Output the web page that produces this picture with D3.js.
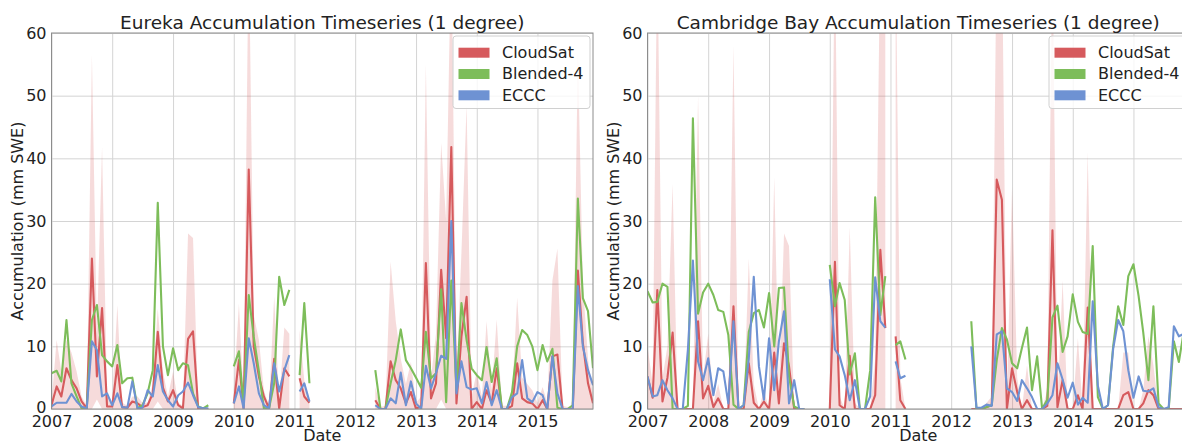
<!DOCTYPE html>
<html>
<head>
<meta charset="utf-8">
<script src="https://cdn.jsdelivr.net/npm/d3@7"></script>
<style>
  body { margin: 0; background: #fff; }
  svg { display: block; font-family: "DejaVu Sans", sans-serif; }
</style>
</head>
<body>
<svg id="chart" width="1182" height="443"></svg>
<script>
const _ = null;

// monthly time axis, Jan 2007 .. Dec 2015
const months = d3.timeMonth.range(new Date(2007, 0, 1), new Date(2016, 0, 1));
const yearTicks = d3.timeYear.range(new Date(2007, 0, 1), new Date(2016, 0, 1));
const yTicks = [0, 10, 20, 30, 40, 50, 60];

const seriesNames = ["CloudSat", "Blended-4", "ECCC"];
const seriesColors = ["#d65a5d", "#7dbd5a", "#6e92d3"];

// Eureka (one row per year)
const eurekaCloudSat = [
  0.6, 3.6, 2, 6.5, 4.6, 3.3, 1.2, 0.1, 24, 5.2, 16.1, 0.4,
  0.4, 7, 0.3, 0.2, 1.2, 0.9, 0.3, 0.6, 2.5, 12.3, 3.4, 1.2,
  3, 0.6, 0.1, 11.2, 12.4, 0.1, 0, 0, _, _, _, _,
  0.9, 7.8, 0.1, 38.2, 10, 5.2, 2, 0.1, 8, 0.1, 6.5, 5.2,
  _, 4.9, 2, 1, _, _, _, _, _, _, _, _,
  _, _, _, _, 1.4, 0, 0, 7.6, 4.6, 3.3, 0.9, 2.7,
  0, 0.5, 23.3, 1.7, 4.1, 22.2, 11.3, 41.8, 0.9, 11.6, 17.9, 0,
  1.1, 0, 3, 0.9, 6.5, 0, 0, 0.5, 7.3, 1.7, 1.1, 0.9,
  0, 1.4, 0, 8.4, 8.7, 0, 0, 0, 22.1, 10.5, 4.1, 0.9
];
const eurekaBlended = [
  5.7, 6.1, 4.4, 14.2, 4.1, 2, 0.1, 0.1, 14.2, 16.6, 8.6, 7.6,
  6.8, 10.2, 4.1, 4.9, 5, 0.1, 0.6, 2.5, 6.2, 32.9, 10, 5.4,
  9.7, 6.2, 7.3, 7, 2.5, 0.4, 0.1, 0.6, _, _, _, _,
  6.8, 9.2, 0.6, 18.2, 11.5, 6, 0.1, 0.1, 4.1, 21.1, 16.6, 19,
  _, 5.4, 16.9, 4.1, _, _, _, _, _, _, _, _,
  _, _, _, _, 6.2, 0, 0, 4.1, 7.8, 12.7, 7.8, 6.5,
  5, 3.4, 12.3, 4.9, 5.7, 19.1, 1.1, 20.5, 3, 16.9, 11, 6.5,
  5.4, 4.6, 9.9, 4.3, 8.1, 0, 0, 2.7, 10, 12.6, 11.8, 10,
  6.2, 10.2, 7.6, 9.6, 0.2, 0, 0, 0.6, 33.6, 17.7, 15.6, 6.5
];
const eurekaEccc = [
  0.4, 1, 1, 1, 2.4, 1.2, 0.4, 0.1, 10.8, 9.4, 2, 2.5,
  0.6, 2.5, 0.3, 0.2, 4.4, 0.1, 0.2, 3, 2, 7, 2.8, 1.4,
  0.4, 2.2, 2.8, 4.2, 2.2, 0.3, 0.1, 0.1, _, _, _, _,
  0.9, 3.6, 0.1, 11.3, 7.3, 2.5, 0.6, 0.1, 7.3, 2.8, 6.2, 8.6,
  _, 2.8, 4.1, 1.2, _, _, _, _, _, _, _, _,
  _, _, _, _, 0.6, 0, 0, 1.7, 0.9, 5.8, 0.6, 4.4,
  0.9, 0, 6.9, 3.3, 5.7, 8.5, 8, 30, 2.5, 7.6, 3.5, 3.1,
  3.3, 0.9, 4.3, 0.6, 3, 0, 0, 1.9, 2.5, 7.8, 1.7, 1.1,
  2.7, 2.2, 0, 8.4, 2.5, 0, 0, 0, 19.6, 10, 6.2, 3.8
];
// CloudSat uncertainty band (upper / lower)
const eurekaHigh = [
  1, 11, 6, 11, 9, 6, 2, 0.5, 56.5, 12, 41.8, 2,
  1, 16.6, 1, 0.5, 2, 2, 1, 1, 4, 16, 6, 2,
  6, 1, 0.5, 28, 27.3, 0.3, 0, 0, _, _, _, _,
  3, 16.8, 2, 75, 15, 11, 3, 0.5, 18, 1, 13, 12,
  _, 12.6, 4.6, 1.4, _, _, _, _, _, _, _, _,
  _, _, _, _, 3.5, 0.3, 0.5, 23.5, 14, 8, 4, 7.5,
  1, 2, 55, 5, 12, 42.5, 30, 75, 5, 25, 48.5, 2,
  6, 2, 14, 3, 14.3, 0.5, 0.5, 2, 17.8, 5, 4, 3,
  1, 3.5, 1, 20.5, 25.6, 0.5, 0.3, 0.5, 57, 20, 8, 2
];
const eurekaLow = [
  0, 0, 0, 0, 0, 0, 0, 0, 0, 1.5, 0, 0,
  0, 0, 0, 0, 0, 0, 0, 0, 0, 1.2, 0, 0,
  0, 0, 0, 0, 0, 0, 0, 0, _, _, _, _,
  0, 0, 0, 0, 0, 0, 0, 0, 0, 0, 0, 0,
  _, 0, 0, 0, _, _, _, _, _, _, _, _,
  _, _, _, _, 0, 0, 0, 0, 0, 0, 0, 0,
  0, 0, 0, 0, 0, 1.5, 0, 0, 0, 0, 0, 0,
  0, 0, 0, 0, 0, 0, 0, 0, 0, 0, 0, 0,
  0, 0, 0, 0, 0, 0, 0, 0, 0, 0, 0, 0
];

// Cambridge Bay
const cambridgeCloudSat = [
  5.2, 1.8, 19, 1.2, 5, 12.2, 0, 0, 0, 0, 14, 1.7,
  3.7, 0.3, 1.7, 0, 0, 16.4, 0, 0, 7.3, 1, 0, 1.2,
  0, 9, 0.9, 10.5, 6.8, 0, 0, 0, _, _, _, _,
  0, 23.5, 0.6, 0, 8.5, 0, 0, 0, 0, 2.2, 25.4, 12.9,
  _, 11.6, 1.4, 0, _, _, _, _, _, _, _, _,
  _, _, _, _, 0, 0, 0, 0.3, 0.6, 36.6, 33.4, 0,
  6.5, 2.7, 0, 1.4, 0, 0, 0, 0.5, 28.5, 0.3, 4.6, 0,
  0, 2.2, 0, 16.2, 0, 0, 0, 0, 0, 0, 2.2, 2.7,
  0, 0, 0.9, 3, 2.2, 0, 0, 0, 0, 0, 0, 0
];
const cambridgeBlended = [
  18.8, 17, 17.1, 20, 19.5, 0, 0, 0, 0.5, 46.4, 15.2, 18.6,
  20, 18.2, 15.8, 15.5, 11.8, 0.7, 0, 0.6, 12.3, 15.3, 15.8, 13,
  18.5, 10, 19.3, 19.4, 5.2, 0.4, 0, 0, _, _, _, _,
  23, 16.4, 20.1, 17.4, 5.5, 8.9, 0, 0, 6.2, 33.8, 15, 21.2,
  _, 10.2, 10.8, 7.9, _, _, _, _, _, _, _, _,
  _, _, _, _, 14, 0, 0, 0.3, 0.6, 7.8, 12.9, 11.1,
  7.3, 6.5, 9.7, 13, 3, 8.4, 0, 1.5, 14.6, 16.5, 9.1, 11.6,
  18.3, 13.9, 12.3, 12, 26, 1.9, 0, 0.6, 10, 16.4, 13.4, 21.2,
  23.1, 18, 12.2, 4.6, 16.4, 0.9, 0, 0, 10.8, 7.5, 12.6, 13
];
const cambridgeEccc = [
  5.2, 2, 2.2, 4.6, 3, 1.7, 0, 0, 9.5, 23.7, 7.6, 4.6,
  8.1, 2.2, 6.5, 6, 0.9, 14, 0, 0.6, 8, 21.1, 6.8, 1.5,
  11.3, 3, 10.8, 15.6, 0.9, 4.6, 0, 0, _, _, _, _,
  20.7, 9.5, 8.4, 5.4, 1.4, 4.6, 0, 0, 2, 21, 14, 13,
  _, 7.6, 4.9, 5.3, _, _, _, _, _, _, _, _,
  _, _, _, _, 10, 0.2, 0.2, 0.7, 0.5, 11.9, 12.4, 3.3,
  2.7, 1.3, 4.6, 3.3, 1.9, 0, 0, 0.9, 2.2, 7.3, 4.7, 1.8,
  4.2, 0.7, 1.8, 1, 17.2, 3.7, 0, 0.6, 9.6, 14.2, 12.4, 6.2,
  1.8, 5.2, 2.9, 2.8, 3.3, 0.3, 0, 0.3, 13.2, 11.6, 12, 12
];
const cambridgeHigh = [
  10, 4, 75, 5, 10, 36, 0, 0, 0, 0, 50, 5,
  12, 1, 4, 0, 0, 58, 0, 0, 24, 4, 0, 3,
  0, 37, 3, 28, 26, 0, 0, 0, _, _, _, _,
  1, 75, 2, 0, 29, 1, 0, 0, 0, 8, 75, 75,
  _, 75, 5, 0, _, _, _, _, _, _, _, _,
  _, _, _, _, 0, 0, 0, 1, 2, 75, 75, 1,
  35.5, 5, 0, 7, 0, 0, 0, 3, 75, 1, 20.5, 0,
  0, 11.3, 0, 41, 0, 0, 0, 0, 0, 0, 9, 9,
  0, 0, 3, 11.6, 7, 0, 0, 0, 0, 0, 0, 0
];
const cambridgeLow = cambridgeHigh.map(v => v == null ? null : 0);

const panels = [
  { title: "Eureka Accumulation Timeseries (1 degree)", left: 51.5,
    lines: [eurekaCloudSat, eurekaBlended, eurekaEccc], high: eurekaHigh, low: eurekaLow },
  { title: "Cambridge Bay Accumulation Timeseries (1 degree)", left: 647.5,
    lines: [cambridgeCloudSat, cambridgeBlended, cambridgeEccc], high: cambridgeHigh, low: cambridgeLow }
];

const plotW = 541.5, plotTop = 33, plotBottom = 409;
const svg = d3.select("#chart");

panels.forEach((p, pi) => {
  const x = d3.scaleTime()
    .domain([months[0], months[months.length - 1]])
    .range([p.left, p.left + plotW]);
  const y = d3.scaleLinear().domain([0, 60]).range([plotBottom, plotTop]);

  const g = svg.append("g");

  g.append("clipPath").attr("id", "clip" + pi)
    .append("rect")
    .attr("x", p.left).attr("y", plotTop)
    .attr("width", plotW).attr("height", plotBottom - plotTop);

  // grid + tick labels
  const xAxis = g.append("g")
    .attr("transform", "translate(0," + plotBottom + ")")
    .call(d3.axisBottom(x).tickValues(yearTicks)
      .tickFormat(d3.timeFormat("%Y"))
      .tickSize(-(plotBottom - plotTop)).tickPadding(6.5));
  const yAxis = g.append("g")
    .attr("transform", "translate(" + p.left + ",0)")
    .call(d3.axisLeft(y).tickValues(yTicks)
      .tickSize(-plotW).tickPadding(5));

  [xAxis, yAxis].forEach(ax => {
    ax.select(".domain").remove();
    ax.selectAll(".tick line").attr("stroke", "#d4d4d4").attr("stroke-width", 1);
    ax.selectAll(".tick text")
      .attr("fill", "#222")
      .style("font-size", "16px")
      .style("font-family", "DejaVu Sans, sans-serif");
  });
  // nudge the "0" label up, clear of the first date label
  yAxis.selectAll(".tick text").filter(d => d === 0).attr("dy", "0.22em");

  const plot = g.append("g").attr("clip-path", "url(#clip" + pi + ")");

  // CloudSat band
  const band = d3.area()
    .defined((d, i) => p.high[i] != null)
    .x(d => x(d))
    .y0((d, i) => y(p.low[i]))
    .y1((d, i) => y(p.high[i]));
  plot.append("path")
    .datum(months)
    .attr("fill", seriesColors[0])
    .attr("fill-opacity", 0.22)
    .attr("d", band);

  p.lines.forEach((vals, si) => {
    const line = d3.line()
      .defined((d, i) => vals[i] != null)
      .x(d => x(d))
      .y((d, i) => y(vals[i]));
    plot.append("path")
      .datum(months)
      .attr("fill", "none")
      .attr("stroke", seriesColors[si])
      .attr("stroke-width", 2.1)
      .attr("stroke-linejoin", "round")
      .attr("d", line);
  });

  // frame
  g.append("rect")
    .attr("x", p.left).attr("y", plotTop)
    .attr("width", plotW).attr("height", plotBottom - plotTop)
    .attr("fill", "none").attr("stroke", "#8c8c8c").attr("stroke-width", 1);

  // titles / labels
  const cx = p.left + plotW / 2;
  g.append("text")
    .attr("x", cx).attr("y", 29)
    .attr("text-anchor", "middle")
    .style("font-size", "18.5px").attr("fill", "#222")
    .text(p.title);
  g.append("text")
    .attr("x", cx).attr("y", 440.5)
    .attr("text-anchor", "middle")
    .style("font-size", "16px").attr("fill", "#222")
    .text("Date");
  g.append("text")
    .attr("transform", "translate(" + (p.left - 29) + "," + ((plotTop + plotBottom) / 2) + ") rotate(-90)")
    .attr("text-anchor", "middle")
    .style("font-size", "16px").attr("fill", "#222")
    .text("Accumulation (mm SWE)");

  // legend
  const lx = p.left + plotW - 140;
  const legend = g.append("g");
  legend.append("rect")
    .attr("x", lx).attr("y", 36)
    .attr("width", 137).attr("height", 72.5)
    .attr("rx", 3)
    .attr("fill", "#fff").attr("fill-opacity", 0.8)
    .attr("stroke", "#d0d0d0");
  seriesNames.forEach((name, si) => {
    const ry = 47.7 + si * 21.3;
    legend.append("rect")
      .attr("x", lx + 5.5).attr("y", ry)
      .attr("width", 31).attr("height", 10)
      .attr("fill", seriesColors[si]);
    legend.append("text")
      .attr("x", lx + 49).attr("y", ry + 10.3)
      .style("font-size", "16px").attr("fill", "#222")
      .text(name);
  });
});
</script>
</body>
</html>
